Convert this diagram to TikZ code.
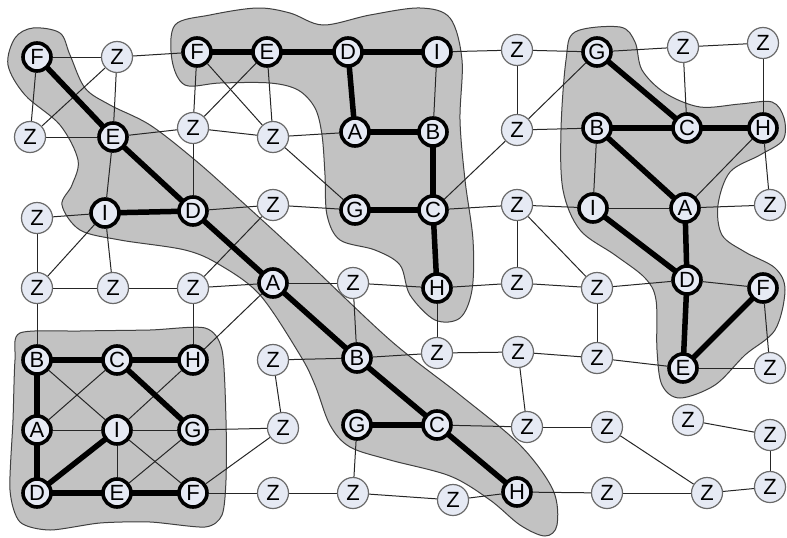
\documentclass[tikz,border=0pt]{standalone}
\usepackage{fontspec}
\setmainfont{Liberation Sans}
\pgfdeclarelayer{bg}
\pgfdeclarelayer{edges}
\pgfsetlayers{bg,edges,main}
\definecolor{nodefill}{HTML}{E6EAF4}
\definecolor{blobfill}{HTML}{C2C2C2}
\definecolor{zborder}{HTML}{6A6A6A}
\tikzset{
  named/.style={circle, draw=black, line width=3.6pt, fill=nodefill, minimum size=28pt, inner sep=0pt, font=\fontsize{22}{22}\selectfont},
  zn/.style={circle, draw=zborder, line width=1.2pt, fill=nodefill, minimum size=31pt, inner sep=0pt, font=\fontsize{22}{22}\selectfont},
  thinedge/.style={line width=1pt, draw=black!85},
  boldedge/.style={line width=5.5pt, draw=black},
  blob/.style={fill=blobfill, draw=black!75, line width=1pt},
}
\begin{document}
\begin{tikzpicture}[x=1pt,y=-1pt]
\useasboundingbox (0,0) rectangle (787,538);
% blobs
\begin{pgfonlayer}{bg}
\fill[white] (0,0) rectangle (787,538);
\draw[blob] plot[smooth cycle, tension=0.55] coordinates {(33,28) (60,33) (70,55) (85,88) (110,105) (150,125) (195,160) (240,200) (300,255) (390,340) (460,395) (520,445) (553,490) (557,525) (545,536) (520,525) (490,500) (450,476) (390,460) (350,447) (330,425) (315,385) (300,355) (260,295) (220,265) (185,250) (120,240) (80,230) (62,205) (72,185) (78,160) (60,125) (25,95) (8,65) (15,38)};
\draw[blob] plot[smooth cycle, tension=0.55] coordinates {(175,25) (210,15) (257,8) (290,13) (323,25) (370,15) (420,8) (450,18) (462,60) (460,120) (465,180) (473,240) (472,290) (460,318) (435,320) (410,295) (400,265) (375,250) (340,240) (327,215) (325,175) (322,135) (315,108) (298,90) (270,83) (220,83) (185,85) (172,60)};
\draw[blob] plot[smooth cycle, tension=0.55] coordinates {(575,32) (620,27) (635,42) (642,70) (665,93) (700,107) (740,104) (772,102) (784,118) (783,140) (760,155) (730,172) (718,205) (722,235) (745,252) (775,268) (785,290) (775,330) (745,355) (715,385) (680,398) (662,385) (657,350) (656,300) (645,278) (615,255) (580,230) (563,190) (561,130) (566,60)};
\draw[blob] plot[smooth cycle, tension=0.45] coordinates {(20,333) (80,331) (150,330) (205,328) (222,350) (226,420) (226,480) (222,515) (205,527) (150,522) (100,523) (50,530) (20,522) (10,490) (13,420) (15,360)};
\end{pgfonlayer}
% named nodes: diagonal
\node[named] (Fa) at (37,57) {F};
\node[named] (Ea) at (113,137) {E};
\node[named] (Ia) at (105,213) {I};
\node[named] (Da) at (193,211) {D};
\node[named] (Aa) at (273,283) {A};
\node[named] (Ba) at (357,358) {B};
\node[named] (Ca) at (437,425) {C};
\node[named] (Ga) at (357,425) {G};
\node[named] (Ha) at (517,492) {H};
% top
\node[named] (Fb) at (197,52) {F};
\node[named] (Eb) at (267,52) {E};
\node[named] (Db) at (348,52) {D};
\node[named] (Ib) at (437,52) {I};
\node[named] (Ab) at (355,132) {A};
\node[named] (Bb) at (433,132) {B};
\node[named] (Cb) at (433,210) {C};
\node[named] (Gb) at (355,210) {G};
\node[named] (Hb) at (437,288) {H};
% right
\node[named] (Gc) at (597,52) {G};
\node[named] (Bc) at (597,128) {B};
\node[named] (Cc) at (687,128) {C};
\node[named] (Hc) at (763,128) {H};
\node[named] (Ic) at (593,208) {I};
\node[named] (Ac) at (685,208) {A};
\node[named] (Dc) at (687,280) {D};
\node[named] (Fc) at (763,288) {F};
\node[named] (Ec) at (683,368) {E};
% bottom left
\node[named] (Bd) at (37,360) {B};
\node[named] (Cd) at (117,360) {C};
\node[named] (Hd) at (193,360) {H};
\node[named] (Ad) at (37,430) {A};
\node[named] (Id) at (117,430) {I};
\node[named] (Gd) at (193,430) {G};
\node[named] (Dd) at (37,493) {D};
\node[named] (Ed) at (117,493) {E};
\node[named] (Fd) at (193,493) {F};
% Z nodes
\node[zn] (z1) at (117,57) {Z};
\node[zn] (z2) at (30,137) {Z};
\node[zn] (z3) at (193,128) {Z};
\node[zn] (z4) at (273,137) {Z};
\node[zn] (z5) at (517,50) {Z};
\node[zn] (z6) at (517,130) {Z};
\node[zn] (z7) at (683,47) {Z};
\node[zn] (z8) at (763,43) {Z};
\node[zn] (z9) at (37,218) {Z};
\node[zn] (z10) at (273,205) {Z};
\node[zn] (z11) at (517,205) {Z};
\node[zn] (z12) at (770,205) {Z};
\node[zn] (z13) at (37,288) {Z};
\node[zn] (z14) at (113,288) {Z};
\node[zn] (z15) at (193,288) {Z};
\node[zn] (z16) at (353,283) {Z};
\node[zn] (z17) at (517,283) {Z};
\node[zn] (z18) at (597,288) {Z};
\node[zn] (z19) at (273,360) {Z};
\node[zn] (z20) at (437,353) {Z};
\node[zn] (z21) at (518,352) {Z};
\node[zn] (z22) at (597,358) {Z};
\node[zn] (z23) at (770,368) {Z};
\node[zn] (z24) at (283,428) {Z};
\node[zn] (z25) at (527,427) {Z};
\node[zn] (z26) at (607,427) {Z};
\node[zn] (z27) at (688,420) {Z};
\node[zn] (z28) at (770,435) {Z};
\node[zn] (z29) at (273,493) {Z};
\node[zn] (z30) at (353,493) {Z};
\node[zn] (z31) at (453,500) {Z};
\node[zn] (z32) at (607,493) {Z};
\node[zn] (z33) at (707,493) {Z};
\node[zn] (z34) at (770,487) {Z};
% edges
\begin{pgfonlayer}{edges}
\foreach \a/\b in {Fa/z1, Fa/z2, z1/z2, z2/Ea, z1/Ea, z1/Fb, Ea/z3, Fb/z3, z3/Da, Eb/z3, Fb/z4, Eb/z4, z3/z4, z4/Ab, z4/Gb, Ea/Ia, Ia/z9, Ia/z13, Ia/z14, z9/z13, z13/z14, z14/z15, z15/Hd, z13/Bd, z15/Aa, z15/z10, Da/z10, z10/Gb, Aa/z16, z16/Ba, z16/Hb, Aa/Hd, Ib/Bb, Ib/z5, z5/Gc, z5/z6, Gc/z6, z6/Cb, z6/Bc, Cb/z11, z11/Ic, z11/z17, z11/z18, Hb/z17, z17/z18, Hb/z20, z20/z21, z20/Ba, z21/z22, z21/z25, z18/z22, z18/Dc, Ca/z25, z25/z26, Ha/z31, z31/z30, Ha/z32, z32/z33, z26/z33, z33/z34, z34/z28, z28/z27, Gc/z7, z7/z8, z7/Cc, z8/Hc, Hc/Ac, Hc/z12, Ac/z12, Ic/Ac, Bc/Ic, Dc/Fc, Fc/z23, Ec/z23, Ec/z22, z19/Ba, z19/z24, Gd/z24, Fd/z24, Fd/z29, z29/z30, Ga/z30, Bd/Id, Id/Fd, Ad/Cd, Ad/Id, Id/Hd, Id/Gd, Id/Ed, Ed/Gd}
  \draw[thinedge] (\a) -- (\b);
\foreach \a/\b in {Fa/Ea, Ea/Da, Ia/Da, Da/Aa, Aa/Ba, Ba/Ca, Ga/Ca, Ca/Ha, Fb/Eb, Eb/Db, Db/Ib, Db/Ab, Ab/Bb, Bb/Cb, Gb/Cb, Cb/Hb, Gc/Cc, Bc/Cc, Cc/Hc, Bc/Ac, Ic/Dc, Ac/Dc, Dc/Ec, Ec/Fc, Bd/Cd, Cd/Hd, Bd/Ad, Ad/Dd, Dd/Id, Cd/Gd, Dd/Ed, Ed/Fd}
  \draw[boldedge] (\a.center) -- (\b.center);
\end{pgfonlayer}
\end{tikzpicture}
\end{document}
